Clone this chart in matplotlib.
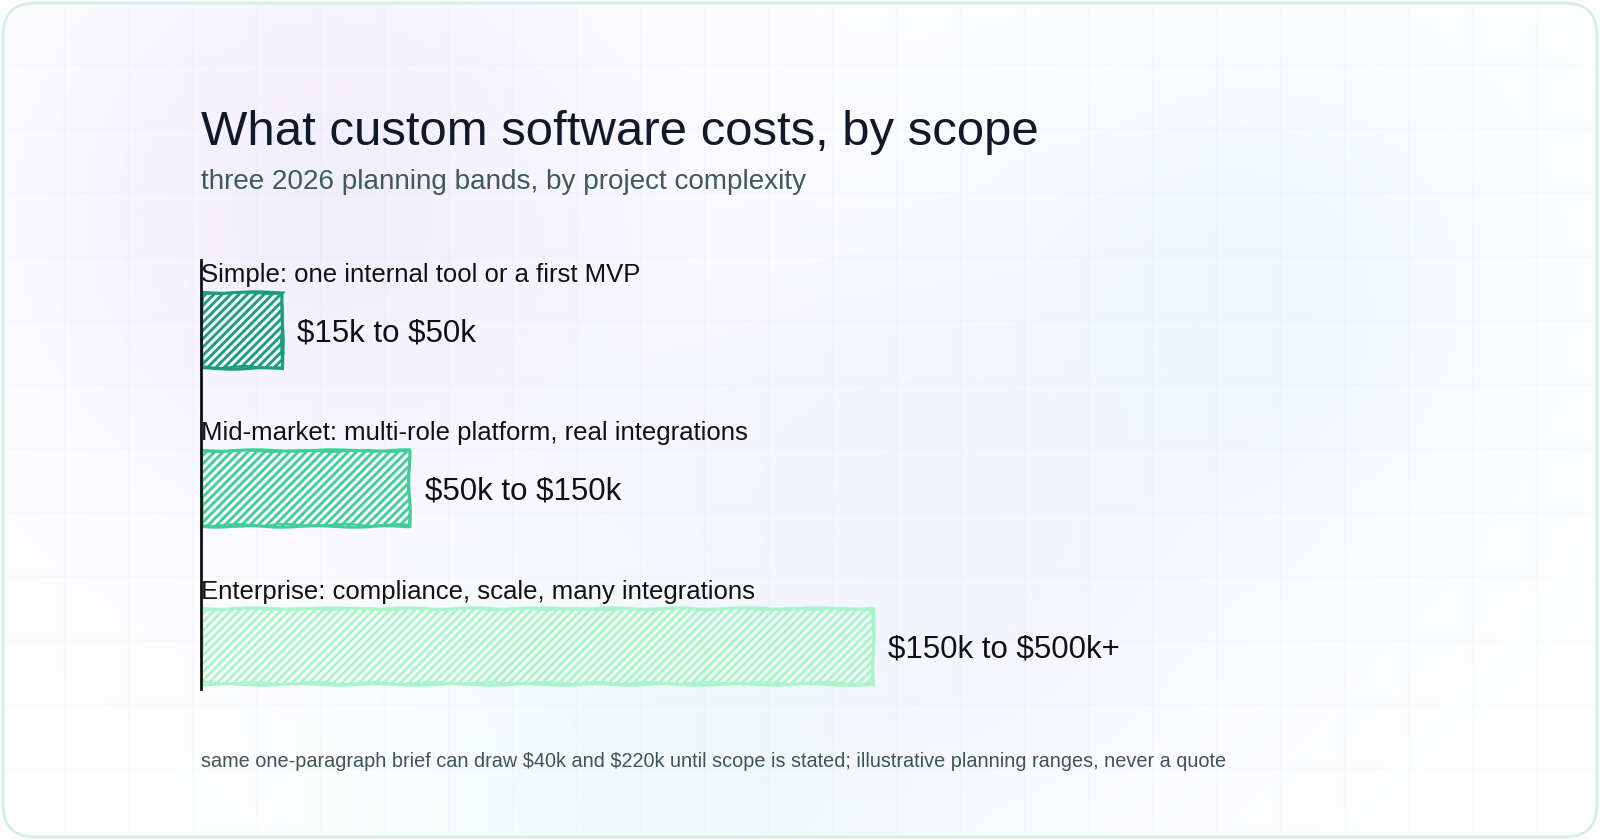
import numpy as np
import matplotlib
matplotlib.use("Agg")
import matplotlib.pyplot as plt
from matplotlib.patches import FancyBboxPatch

plt.rcParams['font.family'] = ['Liberation Sans', 'DejaVu Sans']
plt.rcParams['hatch.linewidth'] = 2.0
plt.rcParams['text.parse_math'] = False

# data
categories = [
    "Simple: one internal tool or a first MVP",
    "Mid-market: multi-role platform, real integrations",
    "Enterprise: compliance, scale, many integrations",
]
range_labels = ["$15k to $50k", "$50k to $150k", "$150k to $500k+"]
bar_values = [60, 155, 500]   # drawn bar length, $k
bar_colors = ["#1a9e77", "#3ecf98", "#a8f5ca"]

title = "What custom software costs, by scope"
subtitle = "three 2026 planning bands, by project complexity"
footnote = ("same one-paragraph brief can draw $40k and $220k until scope is stated; "
            "illustrative planning ranges, never a quote")

W, H = 1600, 840
fig = plt.figure(figsize=(W / 100, H / 100), dpi=100)

# ---- background card ----
bg = fig.add_axes([0, 0, 1, 1])
bg.set_xlim(0, W)
bg.set_ylim(H, 0)
bg.axis('off')

yy, xx = np.mgrid[0:H, 0:W].astype(float)
img = np.ones((H, W, 3))


def blob(cx, cy, r, rgb, strength):
    w = strength * np.exp(-((xx - cx) ** 2 + (yy - cy) ** 2) / (2 * r ** 2))
    for k in range(3):
        img[..., k] = img[..., k] * (1 - w) + rgb[k] * w


blob(330, 210, 230, (0.92, 0.90, 0.99), 0.6)
blob(1260, 290, 200, (0.90, 0.95, 0.99), 0.5)
blob(900, 540, 230, (0.91, 0.92, 0.98), 0.5)
blob(640, 840, 190, (0.91, 0.97, 0.96), 0.5)

card = FancyBboxPatch((3, 3), W - 6, H - 6, boxstyle="round,pad=0,rounding_size=32",
                      facecolor='none', edgecolor="#d4efe4", linewidth=2, zorder=3)
bg.add_patch(card)
im = bg.imshow(img, extent=(0, W, H, 0), aspect='auto', zorder=0)
im.set_clip_path(card)

for gx in range(64, W, 64):
    bg.plot([gx, gx], [4, H - 4], color=(0.82, 0.85, 0.9), alpha=0.1, lw=0.8, zorder=1)
for gy in range(64, H, 64):
    bg.plot([4, W - 4], [gy, gy], color=(0.82, 0.85, 0.9), alpha=0.1, lw=0.8, zorder=1)

# ---- chart ----
px_per_k = 672 / 500.0
ax = fig.add_axes([201 / W, (H - 689) / H, 1200 / W, 429 / H])
ax.patch.set_alpha(0)
ax.set_xlim(0, 1200 / px_per_k)
ax.set_ylim(2.272, -0.443)

ypos = np.arange(len(categories))
bars = ax.barh(ypos, bar_values, height=0.48, facecolor='none', edgecolor=bar_colors,
               hatch='////', linewidth=2.2, zorder=2)
for b in bars:
    b.set_sketch_params(0.7, 90, 3)
# second pass of the outline, rough style
outl = ax.barh(ypos, bar_values, height=0.47, facecolor='none', edgecolor=bar_colors,
               linewidth=1.5, zorder=2)
for b in outl:
    b.set_sketch_params(0.9, 70, 3)

for i, (cat, lbl, val) in enumerate(zip(categories, range_labels, bar_values)):
    ax.text(0, i - 0.345, cat, fontsize=18.5, ha='left', va='center', color='#111111')
    ax.annotate(lbl, (val, i), xytext=(11, -2.5), textcoords='offset points',
                fontsize=22.5, ha='left', va='center', color='#111111')

for s in ['top', 'right', 'bottom']:
    ax.spines[s].set_visible(False)
ax.spines['left'].set_color('#111111')
ax.spines['left'].set_linewidth(2)
ax.set_xticks([])
ax.set_yticks([])

# ---- texts ----
fig.text(201 / W, 1 - 145 / H, title, fontsize=35.4, color='#111827', va='baseline')
fig.text(201 / W, 1 - 189 / H, subtitle, fontsize=20.1, color='#3f5a5a', va='baseline')
fig.text(201 / W, 1 - 767 / H, footnote, fontsize=14.35, color='#3f5454', va='baseline')

fig.savefig('out.png', dpi=100)
